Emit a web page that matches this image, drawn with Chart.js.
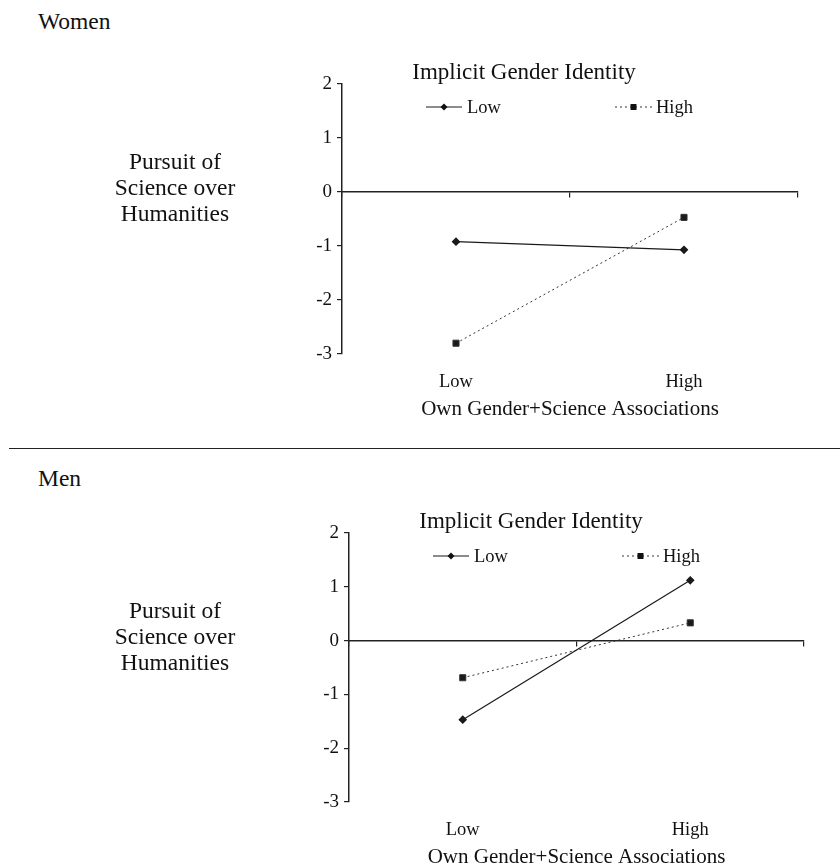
<!DOCTYPE html>
<html>
<head>
<meta charset="utf-8">
<script src="https://cdn.jsdelivr.net/npm/chart.js@4"></script>
<style>
  body { margin: 0; background: #fff; overflow: hidden; font-family: "Liberation Serif", serif; color: #111; }
  .wrap { position: relative; width: 840px; height: 866px; }
  .panel { position: absolute; left: 38px; font-size: 23.5px; line-height: 24px; }
  .sep { position: absolute; left: 9px; right: 0; top: 448px; height: 0; border-top: 1.5px solid #222; }
  canvas { position: absolute; left: 0; }
</style>
</head>
<body>
<div class="wrap">
  <div class="panel" style="top:9px">Women</div>
  <canvas id="chart1" width="840" height="440" style="top:0"></canvas>
  <div class="sep"></div>
  <div class="panel" style="top:466px">Men</div>
  <canvas id="chart2" width="840" height="440" style="top:450px"></canvas>
</div>
<script>
const categories = ['Low', 'High'];
const seriesNames = ['Low', 'High'];
const womenLow = [-0.92, -1.07];
const womenHigh = [-2.80, -0.47];
const menLow = [-1.47, 1.12];
const menHigh = [-0.69, 0.33];
const yMin = -3;
const yMax = 2;

const serif = "'Liberation Serif', 'Times New Roman', serif";
const ink = '#111';

// legend + y title drawn next to the plot
const extras = {
    id: 'extras',
    afterDraw(chart) {
        const ctx = chart.ctx;
        const area = chart.chartArea;
        ctx.save();
        ctx.fillStyle = ink;
        ctx.textBaseline = 'middle';

        ctx.font = '23px ' + serif;
        ctx.textAlign = 'center';
        ctx.fillText('Implicit Gender Identity', area.left + 182, area.top - 11);

        const ly = area.top + 23;
        const items = [[84, 120, 125], [273, 310, 314]];
        chart.data.datasets.forEach((ds, i) => {
            const [x0, x1, tx] = items[i];
            ctx.strokeStyle = ds.borderColor;
            ctx.lineWidth = ds.borderWidth;
            ctx.setLineDash(ds.borderDash || []);
            ctx.beginPath();
            ctx.moveTo(area.left + x0, ly);
            ctx.lineTo(area.left + x1, ly);
            ctx.stroke();
            ctx.setLineDash([]);
            const cx = area.left + (x0 + x1) / 2;
            ctx.fillStyle = ink;
            ctx.beginPath();
            if (ds.pointStyle === 'rectRot') {
                ctx.moveTo(cx - 3.5, ly); ctx.lineTo(cx, ly - 3.5);
                ctx.lineTo(cx + 3.5, ly); ctx.lineTo(cx, ly + 3.5);
            } else {
                ctx.rect(cx - 3, ly - 3, 6, 6);
            }
            ctx.fill();
            ctx.font = '18.5px ' + serif;
            ctx.textAlign = 'left';
            ctx.fillText(ds.label, area.left + tx, ly + 1);
        });

        const y0 = chart.scales.y.getPixelForValue(0) - 3;
        ctx.font = '23.5px ' + serif;
        ctx.textAlign = 'center';
        ctx.fillText('Pursuit of', 175, y0 - 26);
        ctx.fillText('Science over', 175, y0);
        ctx.fillText('Humanities', 175, y0 + 26);
        ctx.restore();
    }
};

function makeChart(id, lowData, highData, pad) {
    const ctx = document.getElementById(id).getContext('2d');

    const data = {
        labels: categories,
        datasets: [
            {
                label: seriesNames[0],
                data: lowData,
                borderColor: '#1a1a1a',
                backgroundColor: '#1a1a1a',
                borderWidth: 1.2,
                pointStyle: 'rectRot',
                pointRadius: 3.5,
                tension: 0
            },
            {
                label: seriesNames[1],
                data: highData,
                borderColor: '#333',
                backgroundColor: '#1a1a1a',
                borderWidth: 1,
                borderDash: [2, 3],
                pointStyle: 'rect',
                pointRadius: 4.3,
                tension: 0
            }
        ]
    };

    const config = {
        type: 'line',
        data: data,
        options: {
            responsive: false,
            animation: false,
            layout: { padding: pad },
            plugins: { legend: { display: false }, tooltip: { enabled: false } },
            scales: {
                x: {
                    type: 'category',
                    offset: true,
                    grid: { display: false, drawTicks: false },
                    border: { display: false },
                    ticks: { color: ink, font: { family: serif, size: 18.5 }, padding: 17 },
                    title: {
                        display: true,
                        text: 'Own Gender+Science Associations',
                        color: ink,
                        font: { family: serif, size: 21 },
                        padding: { top: 0, bottom: 2 }
                    },
                    afterFit: (scale) => { scale.height = 70; }
                },
                zero: {
                    type: 'category',
                    axis: 'x',
                    offset: true,
                    position: { y: 0 },
                    grid: { offset: true, drawOnChartArea: false, drawTicks: true, tickLength: 5, color: '#222', lineWidth: 1.2 },
                    border: { display: true, color: '#222', width: 1.5 },
                    ticks: { display: false }
                },
                y: {
                    min: yMin,
                    max: yMax,
                    ticks: { stepSize: 1, color: ink, font: { family: serif, size: 19 }, padding: 5 },
                    grid: { drawOnChartArea: false, drawTicks: true, tickLength: 5, color: '#222', lineWidth: 1.2 },
                    border: { display: true, color: '#222', width: 1.5 },
                    afterFit: (scale) => { scale.width = 40; }
                }
            }
        },
        plugins: [extras]
    };

    return new Chart(ctx, config);
}

makeChart('chart1', womenLow, womenHigh, { top: 84, left: 302, right: 42, bottom: 16 });
makeChart('chart2', menLow, menHigh, { top: 83, left: 309, right: 36, bottom: 18 });
</script>
</body>
</html>
